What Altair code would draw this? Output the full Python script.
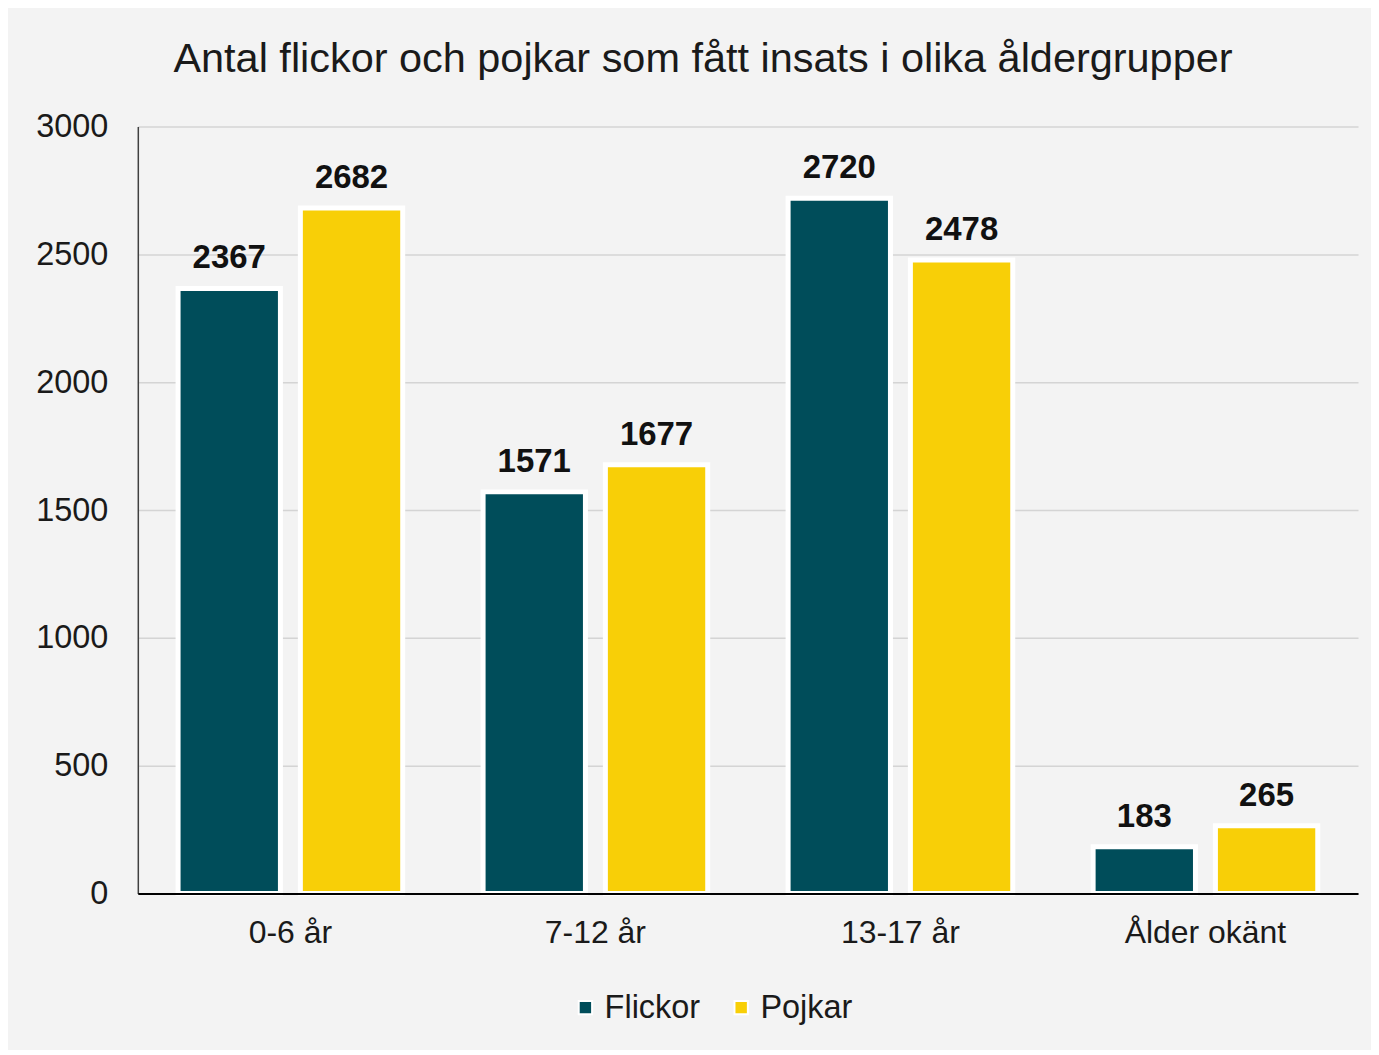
import altair as alt
import pandas as pd

categories = ["0-6 år", "7-12 år", "13-17 år", "Ålder okänt"]
series = ["Flickor", "Pojkar"]
flickor = [2367, 1571, 2720, 183]
pojkar = [2682, 1677, 2478, 265]
y_ticks = [0, 500, 1000, 1500, 2000, 2500, 3000]
colors = ["#004D5A", "#F8CF07"]
title_text = "Antal  flickor och pojkar som fått insats i olika åldergrupper"

rows = []
for c, f, p in zip(categories, flickor, pojkar):
    rows.append({"grupp": c, "kon": series[0], "antal": f})
    rows.append({"grupp": c, "kon": series[1], "antal": p})
df = pd.DataFrame(rows)

FONT = "Liberation Sans"

x = alt.X(
    "grupp:N",
    sort=categories,
    scale=alt.Scale(paddingInner=0.2635, paddingOuter=0.132),
    axis=alt.Axis(
        title=None, labelAngle=0, labelFontSize=32, labelFont=FONT,
        labelPadding=24, labelColor="#1a1a1a", domainColor="#000000",
        domainWidth=2, ticks=False, grid=False, zindex=1,
    ),
)
xo = alt.XOffset("kon:N", sort=series, scale=alt.Scale(paddingInner=0.163, paddingOuter=0))
y = alt.Y(
    "antal:Q",
    scale=alt.Scale(domain=[0, 3000], nice=False),
    axis=alt.Axis(
        values=y_ticks, format="d", title=None, labelFontSize=32.5, labelFont=FONT,
        labelColor="#1a1a1a", labelPadding=30, ticks=False,
        domainColor="#404040", domainWidth=1.5,
        gridColor="#d4d4d4", gridWidth=1.5,
    ),
)
color = alt.Color(
    "kon:N",
    sort=series,
    scale=alt.Scale(domain=series, range=colors),
    legend=alt.Legend(
        title=None, orient="none", legendX=432, legendY=866,
        direction="horizontal", symbolType="square", symbolSize=180,
        symbolStrokeColor="white", symbolStrokeWidth=2,
        labelFontSize=32.5, labelFont=FONT, labelColor="#1a1a1a",
        columnPadding=24, labelOffset=3,
    ),
)

bars = alt.Chart(df).mark_bar(stroke="white", strokeWidth=5).encode(
    x=x, xOffset=xo, y=y, color=color
)
labels = alt.Chart(df).mark_text(
    baseline="alphabetic", dy=-20, fontSize=33, fontWeight="bold",
    font=FONT, color="#111111",
).encode(x=x, xOffset=xo, y=y, text=alt.Text("antal:Q"))

chart = (
    alt.layer(bars, labels)
    .properties(
        width=1222, height=768,
        padding={"left": 130, "top": 118, "right": 13, "bottom": 156},
        autosize=alt.AutoSizeParams(type="none"),
        background="#f3f3f3",
        title=alt.TitleParams(
            text=title_text, fontSize=41.5, font=FONT, fontWeight="normal",
            anchor="middle", dx=-45, offset=30, color="#1a1a1a",
        ),
    )
    .configure_view(stroke="transparent")
)

chart.save("out.html", embed_options={"renderer": "svg", "actions": False})
